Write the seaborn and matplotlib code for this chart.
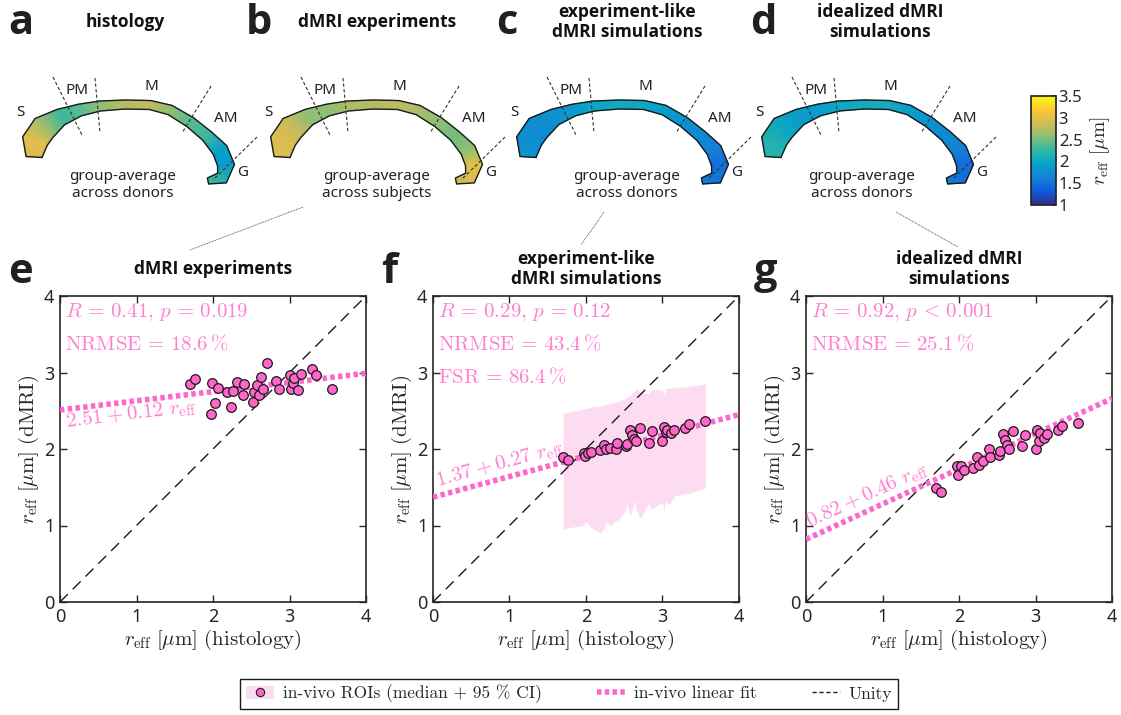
import numpy as np
import pandas as pd
import matplotlib
matplotlib.use("Agg")
import matplotlib.pyplot as plt
import seaborn as sns
from matplotlib import font_manager as fm
from matplotlib.colors import LinearSegmentedColormap, Normalize
from matplotlib.cm import ScalarMappable
from matplotlib.lines import Line2D
from matplotlib.patches import Patch
from matplotlib.legend_handler import HandlerTuple

# ---------------- data ----------------
hist_x = [1.70, 1.76, 1.97, 1.99, 2.02, 2.06, 2.18, 2.23, 2.26, 2.32,
          2.39, 2.41, 2.52, 2.53, 2.58, 2.60, 2.63, 2.66, 2.71, 2.82,
          2.86, 3.00, 3.02, 3.04, 3.06, 3.11, 3.15, 3.30, 3.34, 3.56]
exp_y = [2.85, 2.92, 2.46, 2.86, 2.60, 2.80, 2.74, 2.55, 2.76, 2.88,
         2.71, 2.85, 2.61, 2.75, 2.84, 2.71, 2.94, 2.79, 3.12, 2.89,
         2.79, 2.97, 2.78, 2.86, 2.93, 2.77, 2.98, 3.04, 2.97, 2.78]
explike_y = [1.89, 1.86, 1.95, 1.91, 1.95, 1.96, 1.99, 2.05, 2.00, 2.01,
             2.00, 2.08, 2.04, 2.07, 2.25, 2.18, 2.13, 2.10, 2.28, 2.08,
             2.23, 2.10, 2.29, 2.22, 2.25, 2.21, 2.25, 2.28, 2.33, 2.36]
explike_lo = [0.95, 0.97, 1.00, 1.05, 1.03, 0.98, 0.90, 0.95, 1.05, 1.00,
              1.07, 1.05, 1.20, 1.29, 1.12, 1.20, 1.33, 1.20, 1.10, 1.29,
              1.22, 1.30, 1.18, 1.33, 1.28, 1.30, 1.38, 1.42, 1.42, 1.49]
explike_hi = [2.47, 2.48, 2.52, 2.53, 2.53, 2.55, 2.56, 2.58, 2.58, 2.60,
              2.61, 2.62, 2.66, 2.68, 2.70, 2.72, 2.75, 2.79, 2.74, 2.72,
              2.78, 2.77, 2.70, 2.79, 2.79, 2.80, 2.80, 2.81, 2.82, 2.85]
ideal_y = [1.49, 1.44, 1.78, 1.66, 1.78, 1.72, 1.75, 1.89, 1.79, 1.84,
           2.00, 1.89, 1.92, 1.98, 2.20, 2.12, 2.05, 2.00, 2.23, 2.04,
           2.18, 2.00, 2.25, 2.10, 2.21, 2.15, 2.19, 2.25, 2.30, 2.34]

fit_intercepts = [2.51, 1.37, 0.82]
fit_slopes = [0.12, 0.27, 0.46]
stat_R = ["0.41", "0.29", "0.92"]
stat_p = ["=", "=", "<"]
stat_pval = ["0.019", "0.12", "0.001"]
stat_nrmse = ["18.6", "43.4", "25.1"]
stat_fsr = [None, "86.4", None]

bottom_titles = ["dMRI experiments", "experiment-like\ndMRI simulations",
                 "idealized dMRI\nsimulations"]
bottom_letters = ["e", "f", "g"]
top_titles = ["histology", "dMRI experiments", "experiment-like\ndMRI simulations",
              "idealized dMRI\nsimulations"]
top_letters = ["a", "b", "c", "d"]
map_captions = ["group-average\nacross donors", "group-average\nacross subjects",
                "group-average\nacross donors", "group-average\nacross donors"]
region_labels = ["S", "PM", "M", "AM", "G"]

# regional r_eff along the callosum (splenium -> genu), per map
map_hist = [2.90, 3.00, 2.70, 2.30, 2.40, 2.60, 2.75, 2.80, 2.60, 2.40, 2.30, 1.90, 1.85, 2.20, 2.30]
map_exp = [2.95, 2.95, 2.85, 2.60, 2.60, 2.70, 2.75, 2.80, 2.70, 2.60, 2.50, 2.60, 3.00, 2.95, 2.90]
map_explike = [1.80, 1.75, 1.72, 1.78, 1.85, 1.98, 2.02, 2.02, 1.88, 1.78, 1.72, 1.62, 1.48, 1.52, 1.62]
map_ideal = [2.20, 2.15, 2.00, 1.85, 1.88, 2.00, 2.05, 2.05, 1.90, 1.80, 1.72, 1.62, 1.45, 1.50, 1.60]

cbar_ticks = [1, 1.5, 2, 2.5, 3, 3.5]
axis_ticks = [0, 1, 2, 3, 4]
legend_labels = ["in-vivo ROIs (median + 95 % CI)", "in-vivo linear fit", "Unity"]

# ---------------- style / layout ----------------
sns.set_theme(style="white")
plt.rcParams["font.family"] = ["Noto Sans", "DejaVu Sans"]
plt.rcParams["mathtext.fontset"] = "cm"


def _w(f):
    w = f.weight
    if isinstance(w, str):
        w = fm.weight_dict.get(w, 400)
    return w


_bold_names = {f.name for f in fm.fontManager.ttflist if _w(f) >= 600}
BOLD_FAM = next((fam for fam in ["Noto Sans", "Open Sans", "Lato", "Roboto", "Inter",
                                 "Liberation Sans", "DejaVu Sans"] if fam in _bold_names),
                "DejaVu Sans")

PINK = "#FF66CC"
PINK_TXT = "#FF7FD0"
BAND = "#FDDCF1"
DARK = "#262626"

W, H = 1121, 715
fig = plt.figure(figsize=(W / 100, H / 100), dpi=100)

ov = fig.add_axes([0, 0, 1, 1])
ov.set_xlim(0, W)
ov.set_ylim(H, 0)
ov.axis("off")

parula = LinearSegmentedColormap.from_list(
    "parula", ["#352A87", "#0F5CDD", "#1481D6", "#06A4CA", "#2EB7A4",
               "#87BF77", "#D1BB59", "#FEC832", "#F9FB0E"])
norm = Normalize(1, 3.5)

# corpus callosum template (pixel geometry of panel a)
CC_X = np.array([34, 35, 44, 61, 80, 100, 125, 150, 170, 190, 207, 220, 226, 222, 208], float)
CC_Y = np.array([157, 141, 128, 117, 110, 106, 104.5, 105, 110, 122, 136, 150, 165, 178, 181], float)
CC_HW = np.array([8, 13, 13, 8.5, 6, 5, 4.5, 4.5, 5, 5.5, 6, 8, 8.5, 6.5, 3], float)
BOUNDS = [((53, 77), (82, 135)), ((95, 78), (100, 133)), ((211, 86), (182, 133)), ((257, 137), (213, 180))]
LABEL_POS = [(20, 112), (77, 91), (151, 87), (226, 118), (243, 173)]
MAP_DX = [0, 248, 494, 739]
CAPTION_X = [123, 377, 627, 862]
TOP_TITLE_X = [125, 377, 627, 880]
TOP_LETTER_X = [8, 246, 496, 750]


def draw_cc(ax, dx, values):
    cx = CC_X + dx
    cy = CC_Y
    tx, ty = np.gradient(cx), np.gradient(cy)
    n = np.hypot(tx, ty)
    nx, ny = -ty / n, tx / n
    ux, uy = cx + CC_HW * nx, cy + CC_HW * ny
    lx, ly = cx - CC_HW * nx, cy - CC_HW * ny
    v = np.asarray(values, float)
    ax.pcolormesh(np.vstack([ux, lx]), np.vstack([uy, ly]), np.vstack([v, v]),
                  cmap=parula, norm=norm, shading="gouraud")
    ax.plot(np.r_[ux, lx[::-1], ux[0]], np.r_[uy, ly[::-1], uy[0]], color="k", lw=1.0)


maps = [map_hist, map_exp, map_explike, map_ideal]
for k in range(4):
    dx = MAP_DX[k]
    draw_cc(ov, dx, maps[k])
    for (p0, p1) in BOUNDS:
        ov.plot([p0[0] + dx, p1[0] + dx], [p0[1], p1[1]], color="#333333", lw=0.8,
                ls=(0, (3, 2)))
    for lab, (lx_, ly_) in zip(region_labels, LABEL_POS):
        ov.text(lx_ + dx, ly_, lab, ha="center", va="center", fontsize=11, color="#222222")
    ov.text(CAPTION_X[k], 185, map_captions[k], ha="center", va="center", fontsize=11,
            color="#222222", linespacing=1.2)
    ov.text(TOP_TITLE_X[k], 22, top_titles[k], ha="center", va="center", fontsize=12.5,
            fontweight="bold", family=BOLD_FAM, color="#111111", linespacing=1.15)
    ov.text(TOP_LETTER_X[k], 34, top_letters[k], ha="left", va="baseline", fontsize=30,
            fontweight="bold", family=BOLD_FAM, color="#231f20")

# connectors from maps to scatter panels
for (x0, y0), (x1, y1) in [((303, 207), (190, 250)), ((604, 212), (581, 245)), ((896, 212), (958, 247))]:
    ov.plot([x0, x1], [y0, y1], color="#333333", lw=0.6, ls=(0, (1, 1)))

# colorbar
cax = fig.add_axes([1031 / W, 1 - 205 / H, 25 / W, 109 / H])
cb = fig.colorbar(ScalarMappable(norm=norm, cmap=parula), cax=cax, ticks=cbar_ticks)
cb.ax.set_yticklabels([f"{t:g}" for t in cbar_ticks])
cb.ax.tick_params(labelsize=12, direction="in", length=3, colors=DARK, pad=2)
cb.outline.set_edgecolor(DARK)
cb.set_label(r"$r_{\mathrm{eff}}\ [\mu\mathrm{m}]$", fontsize=14, labelpad=4)

# ---------------- scatter panels ----------------
lefts = [60, 433, 806]
ys = [exp_y, explike_y, ideal_y]
xs_line = np.array([axis_ticks[0], axis_ticks[-1]], float)

for i in range(3):
    ax = fig.add_axes([lefts[i] / W, 1 - (296 + 306) / H, 306 / W, 306 / H])
    ax.set_facecolor("white")
    if i == 1:
        ax.fill_between(hist_x, explike_lo, explike_hi, color=BAND, lw=0, zorder=1)
    sns.lineplot(x=xs_line, y=xs_line, color="k", lw=1.0, linestyle=(0, (8, 5)), ax=ax,
                 zorder=2)
    sns.lineplot(x=xs_line, y=fit_intercepts[i] + fit_slopes[i] * xs_line, color=PINK, lw=4,
                 linestyle=(0, (0.8, 0.6)), ax=ax, zorder=3)
    df = pd.DataFrame({"x": hist_x, "y": ys[i]})
    sns.scatterplot(data=df, x="x", y="y", s=48, color=PINK, edgecolor="k", linewidth=0.9,
                    ax=ax, zorder=5)
    ax.set_xlim(0, 4)
    ax.set_ylim(0, 4)
    ax.set_xticks(axis_ticks)
    ax.set_yticks(axis_ticks)
    ax.tick_params(direction="in", top=True, right=True, bottom=True, left=True,
                   length=5, width=1, labelsize=13, colors=DARK, pad=4)
    for s in ax.spines.values():
        s.set_color(DARK)
        s.set_linewidth(1.2)
    ax.set_xlabel(r"$r_{\mathrm{eff}}\ [\mu\mathrm{m}]\ (\mathrm{histology})$", fontsize=15,
                  color=DARK, labelpad=2)
    ax.set_ylabel(r"$r_{\mathrm{eff}}\ [\mu\mathrm{m}]\ (\mathrm{dMRI})$", fontsize=15,
                  color=DARK, labelpad=2)

    ax.text(0.07, 3.79, rf"$R\,=\,{stat_R[i]},\,p\,{stat_p[i]}\,{stat_pval[i]}$",
            color=PINK_TXT, fontsize=15, va="center", ha="left")
    ax.text(0.07, 3.36, rf"$\mathrm{{NRMSE}}\,=\,{stat_nrmse[i]}\,\%$", color=PINK_TXT,
            fontsize=15, va="center", ha="left")
    if stat_fsr[i] is not None:
        ax.text(0.07, 2.93, rf"$\mathrm{{FSR}}\,=\,{stat_fsr[i]}\,\%$", color=PINK_TXT,
                fontsize=15, va="center", ha="left")

    b, m = fit_intercepts[i], fit_slopes[i]
    ang = np.degrees(np.arctan(m))
    lab = rf"${b:.2f}\:+\:{m:.2f}\ r_{{\mathrm{{eff}}}}$"
    if i == 0:
        x0 = 0.06
        ax.text(x0, b + m * x0 - 0.03, lab, rotation=ang, rotation_mode="anchor",
                ha="left", va="top", color=PINK_TXT, fontsize=15)
    else:
        x0 = 0.08
        ax.text(x0, b + m * x0 + 0.04, lab, rotation=ang, rotation_mode="anchor",
                ha="left", va="bottom", color=PINK_TXT, fontsize=15)

    cxm = lefts[i] + 153
    ov.text(cxm, 269, bottom_titles[i], ha="center", va="center", fontsize=12.5,
            fontweight="bold", family=BOLD_FAM, color="#111111", linespacing=1.15)
    ov.text(lefts[i] - 52, 283, bottom_letters[i], ha="left", va="baseline", fontsize=30,
            fontweight="bold", family=BOLD_FAM, color="#231f20")

# ---------------- legend ----------------
h1 = (Patch(facecolor=BAND, edgecolor="none"),
      Line2D([], [], marker="o", ls="none", mfc=PINK, mec="k", ms=6, mew=0.8))
h2 = Line2D([], [], color=PINK, lw=4, ls=(0, (0.8, 0.6)))
h3 = Line2D([], [], color="k", lw=1, ls=(0, (3, 2)))
leg = fig.legend([h1, h2, h3], legend_labels,
                 handler_map={tuple: HandlerTuple(ndivide=1, pad=0)},
                 loc="center", bbox_to_anchor=(569 / W, 1 - 694 / H), ncol=3,
                 frameon=True, fancybox=False, edgecolor="k", framealpha=1,
                 prop={"family": "cmr10", "size": 12.5}, handlelength=1.6,
                 handletextpad=0.5, columnspacing=3.2, borderpad=0.35)
leg.get_frame().set_linewidth(1.0)

fig.savefig("out.png", dpi=100)
